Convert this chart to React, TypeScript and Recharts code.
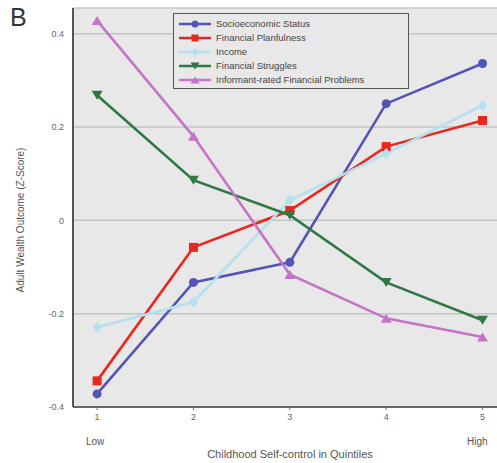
import { LineChart, Line, XAxis, YAxis, CartesianGrid } from "recharts";

const quintiles = [1, 2, 3, 4, 5];
const socioeconomicStatus = [-0.372, -0.133, -0.09, 0.25, 0.336];
const financialPlanfulness = [-0.344, -0.058, 0.021, 0.158, 0.214];
const income = [-0.229, -0.175, 0.043, 0.143, 0.246];
const financialStruggles = [0.268, 0.086, 0.011, -0.133, -0.214];
const informantProblems = [0.428, 0.18, -0.116, -0.21, -0.25];
const yTicks = [-0.4, -0.2, 0, 0.2, 0.4];

const series = [
  { key: "ses", name: "Socioeconomic Status", color: "#5454b4", shape: "circle", values: socioeconomicStatus },
  { key: "plan", name: "Financial Planfulness", color: "#e8281e", shape: "square", values: financialPlanfulness },
  { key: "income", name: "Income", color: "#b4e0f0", shape: "diamond", values: income },
  { key: "struggle", name: "Financial Struggles", color: "#2f7845", shape: "down", values: financialStruggles },
  { key: "informant", name: "Informant-rated Financial Problems", color: "#c474c4", shape: "up", values: informantProblems },
];

const data = quintiles.map((q, i) => {
  const row: any = { q };
  series.forEach((s) => (row[s.key] = s.values[i]));
  return row;
});

const Marker = ({ cx, cy, shape, color, r = 4.5 }: any) => {
  if (cx == null || cy == null) return null;
  if (shape === "circle") return <circle cx={cx} cy={cy} r={r} fill={color} />;
  if (shape === "square") return <rect x={cx - r} y={cy - r} width={r * 2} height={r * 2} fill={color} />;
  if (shape === "diamond")
    return <polygon points={`${cx},${cy - r - 1} ${cx + r},${cy} ${cx},${cy + r + 1} ${cx - r},${cy}`} fill={color} />;
  if (shape === "down")
    return <polygon points={`${cx - r - 1},${cy - r} ${cx + r + 1},${cy - r} ${cx},${cy + r}`} fill={color} />;
  return <polygon points={`${cx - r - 1},${cy + r} ${cx + r + 1},${cy + r} ${cx},${cy - r}`} fill={color} />;
};

// legend box drawn over the plot, top-left
const SeriesLegend = () => (
  <div
    style={{
      position: "absolute",
      left: 173,
      top: 13,
      width: 236,
      height: 76,
      border: "1.5px solid #555",
      background: "#e8e8e8",
      padding: "3px 0 0 4px",
      boxSizing: "border-box",
    }}
  >
    {series.map((s) => (
      <div key={s.key} style={{ display: "flex", alignItems: "center", height: 14 }}>
        <svg width={34} height={12}>
          <line x1={1} y1={6} x2={33} y2={6} stroke={s.color} strokeWidth={2.5} />
          <Marker cx={17} cy={6} shape={s.shape} color={s.color} r={3.5} />
        </svg>
        <span style={{ fontSize: 9.5, color: "#444", marginLeft: 4, lineHeight: "12px" }}>{s.name}</span>
      </div>
    ))}
  </div>
);

const textStyle = { fontFamily: "'Liberation Sans', Arial, sans-serif", color: "#555", position: "absolute" as const };

export default function App() {
  return (
    <div style={{ position: "absolute", left: 0, top: 0, width: 497, height: 463, background: "#fff", fontFamily: "'Liberation Sans', Arial, sans-serif" }}>
      <LineChart width={497} height={463} data={data} margin={{ top: 8, right: 0, bottom: 0, left: 0 }}>
        <CartesianGrid vertical={false} fill="#e8e8e8" stroke="#c4c4c4" strokeWidth={1.5} />
        <XAxis
          xAxisId={0}
          dataKey="q"
          type="number"
          domain={[0.75, 5.15]}
          ticks={quintiles}
          allowDataOverflow
          axisLine={{ stroke: "#666", strokeWidth: 2 }}
          tickLine={{ stroke: "#777" }}
          tickSize={3}
          tickMargin={4}
          tick={{ fontSize: 9, fill: "#666" }}
          height={56}
        />
        <XAxis
          xAxisId="top"
          orientation="top"
          dataKey="q"
          type="number"
          domain={[0.75, 5.15]}
          allowDataOverflow
          tick={false}
          tickLine={false}
          axisLine={{ stroke: "#222", strokeWidth: 2.5 }}
          height={0}
        />
        <YAxis
          type="number"
          domain={[-0.4, 0.455]}
          ticks={yTicks}
          allowDataOverflow
          width={73}
          axisLine={{ stroke: "#555", strokeWidth: 2 }}
          tickLine={false}
          tickSize={0}
          tickMargin={9}
          tick={{ fontSize: 9, fill: "#666" }}
        />
        {series.map((s) => (
          <Line
            key={s.key}
            xAxisId={0}
            dataKey={s.key}
            name={s.name}
            stroke={s.color}
            strokeWidth={2.6}
            isAnimationActive={false}
            dot={(p: any) => <Marker key={`${s.key}-${p.index}`} cx={p.cx} cy={p.cy} shape={s.shape} color={s.color} />}
            activeDot={false}
          />
        ))}
      </LineChart>
      <SeriesLegend />
      <div style={{ ...textStyle, left: 10, top: 3, fontSize: 25, color: "#333" }}>B</div>
      <div style={{ ...textStyle, left: 86, top: 436, fontSize: 10 }}>Low</div>
      <div style={{ ...textStyle, left: 467, top: 436, fontSize: 10 }}>High</div>
      <div style={{ ...textStyle, left: 0, width: 580, top: 448, fontSize: 11, textAlign: "center" }}>
        Childhood Self-control in Quintiles
      </div>
      <div
        style={{
          ...textStyle,
          left: 20,
          top: 220,
          fontSize: 10,
          whiteSpace: "nowrap",
          transform: "translate(-50%, -50%) rotate(-90deg)",
        }}
      >
        Adult Wealth Outcome (Z-Score)
      </div>
    </div>
  );
}
